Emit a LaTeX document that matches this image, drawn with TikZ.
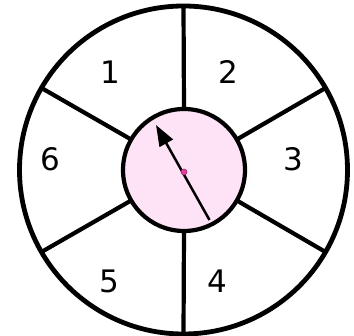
\documentclass[tikz,border=0pt]{standalone}
\usepackage{fontspec}
\setmainfont{DejaVu Sans}
\usetikzlibrary{arrows.meta}
\definecolor{hubpink}{HTML}{FDE3F5}
\definecolor{dotmag}{HTML}{E0409A}
\begin{document}
\begin{tikzpicture}[x=1pt,y=1pt,
  ring/.style={circle,draw=black,line width=4.8pt,inner sep=0pt,outer sep=0pt},
  spoke/.style={line width=4.2pt,black},
  num/.style={inner sep=0pt,font=\fontsize{31}{31}\selectfont,text=black},
  pointer/.style={line width=2.5pt,-{Triangle[length=21pt,width=15pt]}}]
\useasboundingbox (0,0) rectangle (354,336);
\node[ring,minimum size=328pt] (rim) at (183.5,166) {};
\node[ring,fill=hubpink,line width=4.2pt,minimum size=122pt] (hub) at (184,166) {};
\foreach \a in {90,30,-30,-90,-150,150}
  \draw[spoke] (hub.\a) -- (rim.\a);
\node[num] (n1) at (110,264) {1};
\node[num] (n2) at (228.5,264) {2};
\node[num] (n3) at (293.5,177) {3};
\node[num] (n4) at (217,55) {4};
\node[num] (n5) at (109,55) {5};
\node[num] (n6) at (50,177) {6};
\coordinate (tail) at (209.5,116);
\coordinate (tip) at (156,211);
\draw[pointer] (tail) -- (tip);
\node[circle,fill=dotmag,draw=dotmag!70!black,line width=0.6pt,inner sep=0pt,minimum size=6pt] (dot) at (184,164) {};
\end{tikzpicture}
\end{document}
